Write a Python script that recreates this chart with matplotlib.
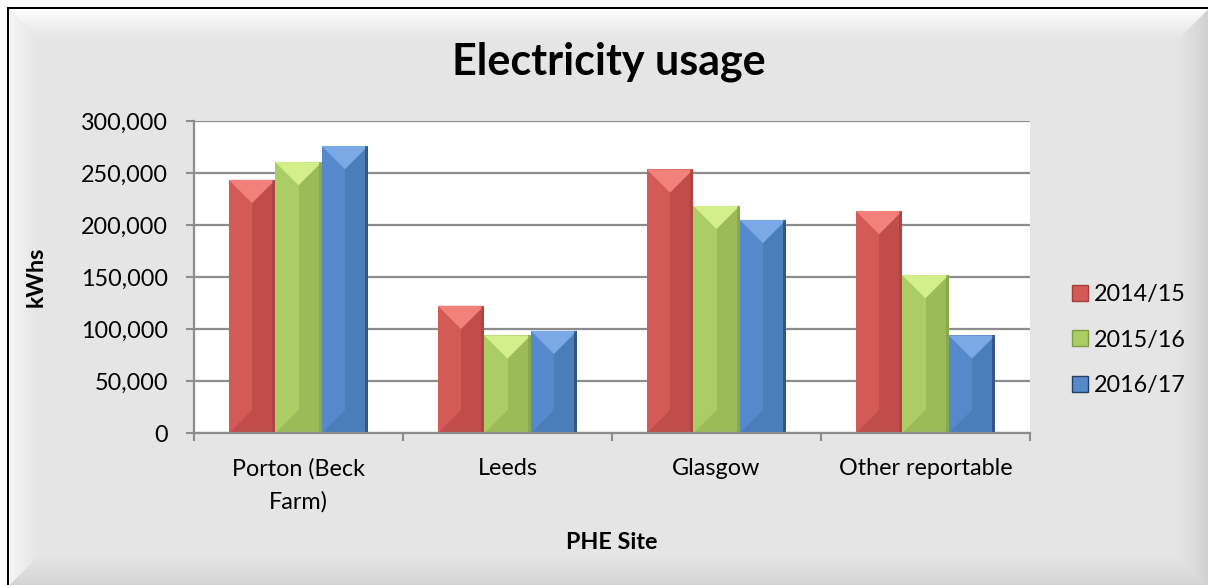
import numpy as np
import matplotlib
matplotlib.use('Agg')
import matplotlib.pyplot as plt
from matplotlib.patches import Polygon, Rectangle
from matplotlib.ticker import FuncFormatter, FixedLocator

sites = ['Porton (Beck\nFarm)', 'Leeds', 'Glasgow', 'Other reportable']
years = ['2014/15', '2015/16', '2016/17']
usage_1415 = [243500, 122500, 253500, 213500]
usage_1516 = [260500, 94000, 218500, 152000]
usage_1617 = [276000, 98500, 205000, 94000]
yticks = [0, 50000, 100000, 150000, 200000, 250000, 300000]

# base (left half), dark (right half), light (top bevel), edge
palette = [
    ('#d45a56', '#c04d4a', '#f2807b', '#a63f3c'),
    ('#aacd65', '#9bbb59', '#d3ef8c', '#7f9c44'),
    ('#5689cc', '#4a7ebb', '#7aa9e6', '#233e63'),
]

plt.rcParams['font.family'] = ['Lato', 'DejaVu Sans']

W, H = 1208, 585


def bevel_background():
    yy, xx = np.mgrid[0:H, 0:W]
    dists = np.stack([xx - 9, yy - 9, W - 1 - xx, H - 1 - yy])
    which = np.argmin(dists, axis=0)
    d = np.min(dists, axis=0)
    t = np.clip(d / 30.0, 0, 1) ** 0.8
    edge_vals = np.array([247.0, 255.0, 208.0, 212.0])
    ev = edge_vals[which]
    img = ev + (229.0 - ev) * t
    img[(xx < 7) | (yy < 7)] = 255
    img[(xx >= 7) & (xx < 9) & (yy >= 7)] = 0
    img[(yy >= 7) & (yy < 9) & (xx >= 7)] = 0
    return np.dstack([img] * 3).astype(np.uint8)


fig = plt.figure(figsize=(W / 100, H / 100), dpi=100)
fig.figimage(bevel_background(), xo=0, yo=0, origin='upper', zorder=-1)

ax = fig.add_axes([194 / W, 1 - 433.3 / H, (1030 - 194) / W, (433.3 - 121) / H])
ax.set_facecolor('white')
ax.set_xlim(-0.5, 3.5)
ax.set_ylim(0, 300000)

bar_w = 0.2222
x = np.arange(len(sites))

px_x = ax.transData.transform((1, 0))[0] - ax.transData.transform((0, 0))[0]
px_y = ax.transData.transform((0, 1))[1] - ax.transData.transform((0, 0))[1]
dy = (bar_w * px_x / 2) / px_y
ew = 3 / px_x

handles = []
for i, vals in enumerate([usage_1415, usage_1516, usage_1617]):
    base, dark, light, edge = palette[i]
    bars = ax.bar(x + (i - 1) * bar_w, vals, width=bar_w, color=base, lw=0, zorder=3)
    for r in bars:
        x0, w, h = r.get_x(), r.get_width(), r.get_height()
        xc = x0 + w / 2
        ax.add_patch(Rectangle((xc, 0), w / 2, h, color=dark, lw=0, zorder=3.1))
        ax.add_patch(Polygon([(x0, 0), (x0 + w, 0), (xc, dy)], color=dark, lw=0, zorder=3.2))
        ax.add_patch(Polygon([(x0, h), (x0 + w, h), (xc, h - dy)], color=light, lw=0, zorder=3.3))
        ax.add_patch(Rectangle((x0 + w - ew, 0), ew, h, color=edge, lw=0, zorder=3.4, alpha=0.6))
    handles.append(Rectangle((0, 0), 1, 1, facecolor=base, edgecolor=edge, lw=1))

#Axes styling
grid_col = '#8c8c8c'
ax.set_yticks(yticks)
ax.yaxis.set_major_formatter(FuncFormatter(lambda v, p: f'{int(v):,}'))
ax.yaxis.grid(True, color=grid_col, lw=1.6)
ax.set_axisbelow(True)
ax.spines['top'].set_visible(False)
ax.spines['right'].set_visible(False)
for s in ['left', 'bottom']:
    ax.spines[s].set_color(grid_col)
    ax.spines[s].set_linewidth(1.6)
    ax.spines[s].set_zorder(5)
ax.tick_params(axis='y', length=5.8, width=1.5, color=grid_col, pad=13, labelsize=16.8)

ax.set_xticks(x)
ax.set_xticklabels(sites, fontsize=16.8, linespacing=1.7)
ax.xaxis.set_minor_locator(FixedLocator(np.arange(-0.5, 4, 1)))
ax.tick_params(axis='x', which='major', length=0, pad=17.5)
ax.tick_params(axis='x', which='minor', length=5.8, width=1.5, color=grid_col)

fig.text(609 / W, 1 - 74 / H, 'Electricity usage', ha='center', va='baseline',
         fontsize=31, fontweight='bold')
fig.text(36 / W, 1 - 277 / H, 'kWhs', ha='center', va='center', rotation=90,
         fontsize=16.8, fontweight='bold')
fig.text(612 / W, 1 - 549 / H, 'PHE Site', ha='center', va='baseline',
         fontsize=16.8, fontweight='bold')

fig.legend(handles, years, loc='center left', bbox_to_anchor=(1072 / W, 1 - 340 / H),
           frameon=False, fontsize=16.8, handlelength=0.69, handleheight=0.69,
           handletextpad=0.26, labelspacing=1.06, borderpad=0, borderaxespad=0)

fig.savefig('out.png', dpi=100)
